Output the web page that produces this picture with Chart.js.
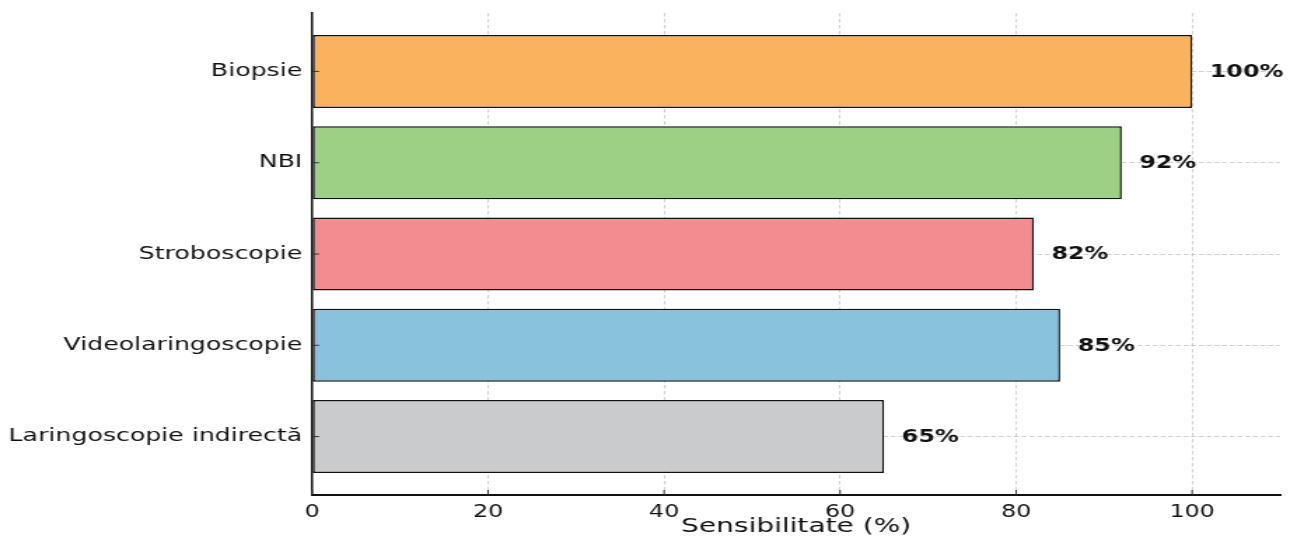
<!DOCTYPE html>
<html>
<head>
<meta charset="utf-8">
<script src="https://cdn.jsdelivr.net/npm/chart.js@4/dist/chart.umd.min.js"></script>
<style>
  html, body { margin: 0; padding: 0; background: #fff; overflow: hidden; }
  /* the reference picture is stretched sideways, so the chart is drawn narrow and scaled */
  #wrap { width: 926px; height: 540px; transform: scaleX(1.4006); transform-origin: 0 0; }
</style>
</head>
<body>
<div id="wrap"><canvas id="grafico" width="926" height="540"></canvas></div>
<script>
// DATOS
const categorias = ['Biopsie', 'NBI', 'Stroboscopie', 'Videolaringoscopie', 'Laringoscopie indirectă'];
const sensibilitate = [100, 92, 82, 85, 65];
const culori = ['#FBB25F', '#9DCF84', '#F28C90', '#89C2DC', '#CACBCD'];
const ticksX = [0, 20, 40, 60, 80, 100];

const fuente = "'DejaVu Sans', sans-serif";
const colorGrid = 'rgba(170,170,170,0.55)';

// puntos {x: valor, y: indice} para poder dejar margen arriba y abajo
const puntos = sensibilitate.map((v, i) => ({ x: v, y: i }));

// etiquetas de porcentaje y marcas cortas hacia adentro
const etiquetasValor = {
    id: 'etiquetasValor',
    afterDraw(chart) {
        const ctx = chart.ctx;
        const sx = chart.scales.x;
        const sy = chart.scales.y;
        const area = chart.chartArea;
        ctx.save();
        ctx.strokeStyle = '#333';
        ctx.lineWidth = 1;
        for (let i = 0; i < categorias.length; i++) {
            const py = sy.getPixelForValue(i);
            ctx.beginPath();
            ctx.moveTo(area.left, py);
            ctx.lineTo(area.left + 5, py);
            ctx.stroke();
        }
        for (const t of ticksX) {
            const px = sx.getPixelForValue(t);
            ctx.beginPath();
            ctx.moveTo(px, area.bottom);
            ctx.lineTo(px, area.bottom - 5);
            ctx.stroke();
        }
        ctx.fillStyle = '#111';
        ctx.font = "bold 17px " + fuente;
        ctx.textAlign = 'left';
        ctx.textBaseline = 'middle';
        sensibilitate.forEach((v, i) => {
            ctx.fillText(v + '%', sx.getPixelForValue(v + 2), sy.getPixelForValue(i) + 1);
        });
        ctx.restore();
    }
};

new Chart(document.getElementById('grafico'), {
    type: 'bar',
    data: {
        datasets: [{
            label: 'Sensibilitate (%)',
            data: puntos,
            backgroundColor: culori,
            borderColor: '#111',
            borderWidth: 1.5,
            borderSkipped: false,
            categoryPercentage: 1,
            barPercentage: 0.8
        }]
    },
    options: {
        indexAxis: 'y',
        responsive: false,
        animation: false,
        devicePixelRatio: 1,
        layout: { padding: { top: 13, right: 12, left: 0, bottom: 0 } },
        plugins: {
            legend: { display: false },
            tooltip: { enabled: false }
        },
        scales: {
            x: {
                type: 'linear',
                min: 0,
                max: 110,
                z: 1,
                ticks: {
                    stepSize: 20,
                    includeBounds: false,
                    padding: 7,
                    color: '#111',
                    font: { family: fuente, size: 17 }
                },
                grid: {
                    color: colorGrid,
                    lineWidth: 1,
                    drawTicks: false
                },
                border: { display: true, color: '#111', width: 2, dash: [3.5, 2.5] },
                title: {
                    display: true,
                    text: 'Sensibilitate (%)',
                    color: '#111',
                    font: { family: fuente, size: 20 },
                    padding: { top: 0, bottom: 1 }
                },
                afterFit(scale) {
                    scale.height = 45;
                    scale.paddingLeft = 0;
                    scale.paddingRight = 0;
                }
            },
            y: {
                type: 'linear',
                reverse: true,
                min: -0.64,
                max: 4.64,
                offset: false,
                z: 1,
                ticks: {
                    stepSize: 1,
                    includeBounds: false,
                    padding: 7,
                    color: '#111',
                    font: { family: fuente, size: 18 },
                    callback: (value) => categorias[Math.round(value)] ?? ''
                },
                grid: {
                    offset: false,
                    color: colorGrid,
                    lineWidth: 1,
                    drawTicks: false
                },
                border: { display: true, color: '#111', width: 1.5, dash: [3.5, 2] },
                afterFit(scale) {
                    scale.width = 222.8;
                    scale.paddingTop = 0;
                    scale.paddingBottom = 0;
                }
            }
        }
    },
    plugins: [etiquetasValor]
});
</script>
</body>
</html>
